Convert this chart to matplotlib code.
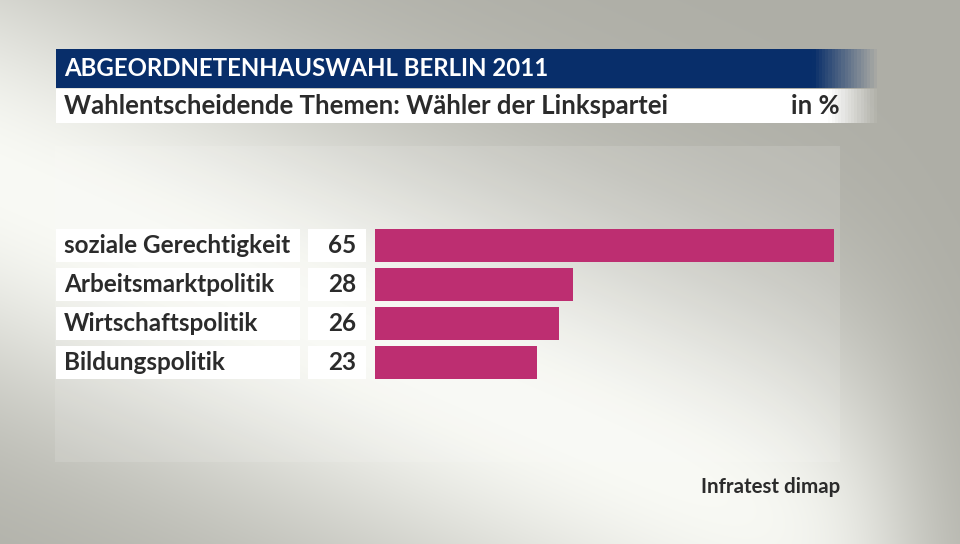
import numpy as np
import matplotlib
matplotlib.use("Agg")
import matplotlib.pyplot as plt
from matplotlib.patches import Rectangle

categories = ["soziale Gerechtigkeit", "Arbeitsmarktpolitik", "Wirtschaftspolitik", "Bildungspolitik"]
values = [65, 28, 26, 23]
title = "ABGEORDNETENHAUSWAHL BERLIN 2011"
subtitle = "Wahlentscheidende Themen: Wähler der Linkspartei"
unit = "in %"
source = "Infratest dimap"

W, H = 960, 544
BLUE = (8 / 255, 46 / 255, 106 / 255)
BAR = "#BD2E71"
TXT = "#2b2b2b"
FONT = "Lato"

fig = plt.figure(figsize=(W / 100, H / 100), dpi=100)
bg = fig.add_axes([0, 0, 1, 1])
bg.axis("off")

# background: grey with a light diagonal band
yy, xx = np.mgrid[0:H, 0:W]
p0 = np.array([0.0, 180.0])
d = np.array([800.0, 350.0])
d /= np.linalg.norm(d)
perp = np.abs((xx - p0[0]) * d[1] - (yy - p0[1]) * d[0])
light = np.exp(-(perp / 210.0) ** 2)
light *= 1 / (1 + np.exp((xx - 900) / 40.0))
grey = np.array([174, 174, 166]) / 255
bright = np.array([249, 250, 245]) / 255
img = grey + (bright - grey) * light[..., None]
bg.imshow(img, extent=(0, W, H, 0), aspect="auto", zorder=0)

# lighter chart panel
bg.add_patch(Rectangle((55, 146), 785, 316, color="white", alpha=0.12, lw=0, zorder=1))

# title bar and subtitle band, both fading out on the right
xs = np.linspace(56, 880, 256)
grad = np.ones((1, 256, 4))
grad[..., :3] = BLUE
grad[..., 3] = np.clip((xs - 880) / (815 - 880), 0, 1)
bg.imshow(grad, extent=(56, 880, 88, 49), aspect="auto", zorder=2)
grad2 = np.ones((1, 256, 4))
grad2[..., 3] = np.clip((xs - 880) / (830 - 880), 0, 1)
bg.imshow(grad2, extent=(56, 880, 123, 89), aspect="auto", zorder=2)
bg.set_xlim(0, W)
bg.set_ylim(H, 0)

bg.text(64, 69, title, color="white", fontsize=17.3, fontweight="bold",
        family=FONT, va="center", ha="left", zorder=3)
bg.text(64, 106, subtitle, color=TXT, fontsize=18.5, fontweight="bold",
        family=FONT, va="center", ha="left", zorder=3)
bg.text(840, 106, unit, color=TXT, fontsize=18.5, fontweight="bold",
        family=FONT, va="center", ha="right", zorder=3)
bg.text(840, 487, source, color=TXT, fontsize=14.8, fontweight="bold",
        family=FONT, va="center", ha="right", zorder=3)

# bars
row_top, row_h = 226, 39
n = len(categories)
ax = fig.add_axes([375 / W, 1 - (row_top + n * row_h) / H, (834 - 375) / W, n * row_h / H])
ax.barh(range(n), values, height=33 / 39, color=BAR, zorder=3)
ax.set_xlim(0, max(values))
ax.set_ylim(n - 0.5, -0.5)
ax.axis("off")
ax.patch.set_alpha(0)

for i, (cat, v) in enumerate(zip(categories, values)):
    y0 = row_top + i * row_h + 3
    bg.add_patch(Rectangle((56, y0), 244, 33, color="white", lw=0, zorder=3))
    bg.add_patch(Rectangle((308, y0), 58, 33, color="white", lw=0, zorder=3))
    bg.text(64, y0 + 16.5, cat, color=TXT, fontsize=17.5, fontweight="bold",
            family=FONT, va="center", ha="left", zorder=4)
    bg.text(356, y0 + 16.5, str(v), color=TXT, fontsize=17.5, fontweight="bold",
            family=FONT, va="center", ha="right", zorder=4)

fig.savefig("out.png", dpi=100)
